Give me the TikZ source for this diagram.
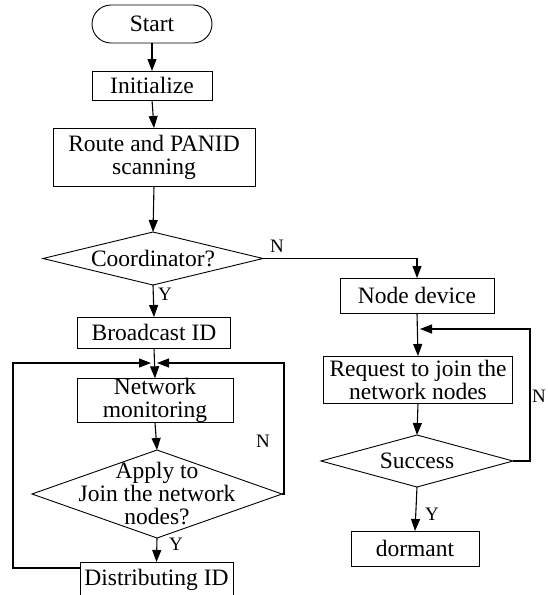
\documentclass[tikz,border=0pt]{standalone}
\usepackage{fontspec}
\setmainfont{Liberation Serif}
\usetikzlibrary{shapes.geometric,arrows.meta}

\tikzset{
  process/.style={draw,line width=0.9pt,rectangle,align=center,inner sep=0pt,outer sep=0pt},
  decision/.style={draw,line width=0.9pt,diamond,inner sep=0pt,outer sep=0pt},
  flow/.style={->,line width=1.1pt},
  yn/.style={font=\fontsize{19}{20}\selectfont}
}

\begin{document}
\begin{tikzpicture}[x=1pt,y=-1pt,>={Triangle[length=12pt,width=9pt]},font=\fontsize{23.5}{23}\selectfont]
    \useasboundingbox (0,0) rectangle (547,595);
    % Left column
    \node[process,rounded corners=19pt,minimum width=120pt,minimum height=38pt] (start) at (152,24) {Start};
    \node[process,minimum width=120pt,minimum height=29pt] (init) at (152,85.5) {Initialize};
    \node[process,minimum width=202pt,minimum height=58pt] (route) at (154,157) {Route and PANID\\scanning};
    \node[decision,minimum width=220pt,minimum height=53pt,label={center:Coordinator?}] (coord) at (153,258.5) {};
    \node[process,minimum width=153pt,minimum height=31pt] (broad) at (154,332.5) {Broadcast ID};
    \node[process,minimum width=156pt,minimum height=43pt] (monitor) at (155,400.5) {Network\\monitoring};
    \node[decision,minimum width=250pt,minimum height=88pt,label={[align=center]center:Apply to\\Join the network\\nodes?}] (apply) at (157,494) {};
    \node[process,minimum width=153pt,minimum height=36pt] (distrib) at (156.5,580) {Distributing ID};
    % Right column
    \node[process,minimum width=154pt,minimum height=35pt] (device) at (417,295.5) {Node device};
    \node[process,minimum width=189pt,minimum height=47pt] (request) at (418,379.5) {Request to join the\\network nodes};
    \node[decision,minimum width=192pt,minimum height=52pt,label={center:Success}] (success) at (417,461) {};
    \node[process,minimum width=128pt,minimum height=35pt] (dormant) at (415,548.5) {dormant};
    % Merge points
    \coordinate (mergeL) at (151,363);
    \coordinate (mergeR) at (157,363);
    \coordinate (mergeD) at (420,329);
    \coordinate (distribIn) at (80,568);
    % Main flow
    \draw[flow] (start.south) -- (init.north);
    \draw[flow] (init.south) -- (route.north);
    \draw[flow] (route.south) -- (coord.north);
    \draw[flow] (coord.south) -- (broad.north);
    \draw[flow] (broad.south) -- (monitor.north);
    \draw[flow] (monitor.south) -- (apply.north);
    \draw[flow] (apply.south) -- (distrib.north);
    % Loops back to monitoring
    \draw[flow] (distribIn) -- ++(-67,0) |- (mergeL);
    \draw[flow] (apply.east) -- ++(2,0) |- (mergeR);
    % Node device branch
    \draw[flow] (coord.east) -| (device.north);
    \draw[flow] (device.south) -- (request.north);
    \draw[flow] (request.south) -- (success.north);
    \draw[flow] (success.south) -- (dormant.north);
    \draw[flow] (success.east) -- ++(17,0) |- (mergeD);
    % Labels
    \node[yn] (n1) at (277,246) {N};
    \node[yn] (y1) at (165,294) {Y};
    \node[yn] (n2) at (263,441) {N};
    \node[yn] (y2) at (176,544) {Y};
    \node[yn] (n3) at (539,396) {N};
    \node[yn] (y3) at (432,514) {Y};
\end{tikzpicture}
\end{document}
